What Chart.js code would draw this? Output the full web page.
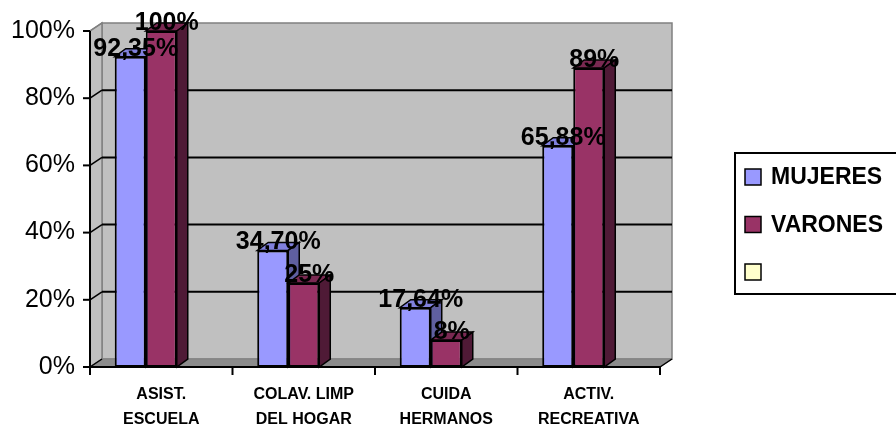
<!DOCTYPE html>
<html>
<head>
<meta charset="utf-8">
<script src="https://cdn.jsdelivr.net/npm/chart.js@4.4.1/dist/chart.umd.min.js"></script>
<style>
  html, body { margin: 0; padding: 0; background: #fff; }
  #wrap { width: 896px; height: 432px; }
</style>
</head>
<body>
<div id="wrap"><canvas id="chart" width="896" height="432"></canvas></div>
<script>
const categories = [['ASIST.', 'ESCUELA'], ['COLAV. LIMP', 'DEL HOGAR'], ['CUIDA', 'HERMANOS'], ['ACTIV.', 'RECREATIVA']];
const mujeres = [92.35, 34.70, 17.64, 65.88];
const varones = [100, 25, 8, 89];
const vacio = [null, null, null, null];
const yMax = 100;
const yStep = 20;

const FONT = '"Liberation Sans", Arial, sans-serif';
const DX = 11, DY = -8;   // profundidad de las barras
const WX = 12, WY = -8;   // profundidad de las paredes

function poly(ctx, pts, fill, stroke, lw) {
    ctx.beginPath();
    ctx.moveTo(pts[0][0], pts[0][1]);
    for (let i = 1; i < pts.length; i++) ctx.lineTo(pts[i][0], pts[i][1]);
    ctx.closePath();
    if (fill) { ctx.fillStyle = fill; ctx.fill(); }
    if (stroke) { ctx.strokeStyle = stroke; ctx.lineWidth = lw || 1; ctx.stroke(); }
}

function line(ctx, x1, y1, x2, y2, color, lw) {
    ctx.beginPath();
    ctx.moveTo(x1, y1);
    ctx.lineTo(x2, y2);
    ctx.strokeStyle = color;
    ctx.lineWidth = lw;
    ctx.stroke();
}

function fmt(v, d) {
    return v.toFixed(d).replace('.', ',') + '%';
}

const caja3d = {
    id: 'caja3d',
    beforeDatasetsDraw(chart) {
        const ctx = chart.ctx;
        const a = chart.chartArea;
        const y = chart.scales.y;
        ctx.save();
        // pared del fondo
        poly(ctx, [[a.left + WX, a.top + WY], [a.right + WX, a.top + WY], [a.right + WX, a.bottom + WY], [a.left + WX, a.bottom + WY]], '#c0c0c0', '#808080', 1.5);
        // pared izquierda
        poly(ctx, [[a.left, a.bottom], [a.left, a.top], [a.left + WX, a.top + WY], [a.left + WX, a.bottom + WY]], '#c0c0c0', '#808080', 1.5);
        // piso
        poly(ctx, [[a.left, a.bottom], [a.right, a.bottom], [a.right + WX, a.bottom + WY], [a.left + WX, a.bottom + WY]], '#8c8c8c', '#808080', 1);

        // lineas de division
        for (let v = yStep; v < yMax; v += yStep) {
            const py = y.getPixelForValue(v);
            line(ctx, a.left + WX, py + WY, a.right + WX, py + WY, '#000', 2);
            line(ctx, a.left, py, a.left + WX, py + WY, '#000', 1.5);
        }
        line(ctx, a.left, a.top, a.left + WX, a.top + WY, '#808080', 1.5);

        // ejes
        line(ctx, a.left, a.top, a.left, a.bottom + 1, '#000', 2);
        for (let v = 0; v <= yMax; v += yStep) {
            const py = y.getPixelForValue(v);
            line(ctx, a.left - 7, py, a.left, py, '#000', 2);
        }
        line(ctx, a.left - 1, a.bottom, a.right, a.bottom, '#000', 2);
        line(ctx, a.left, a.bottom, a.left + WX, a.bottom + WY, '#000', 1.5);
        line(ctx, a.right, a.bottom, a.right + WX, a.bottom + WY, '#000', 1.5);
        const cw = (a.right - a.left) / categories.length;
        for (let i = 0; i <= categories.length; i++) {
            const px = a.left + i * cw;
            line(ctx, px, a.bottom, px, a.bottom + 8, '#000', 2);
        }

        // caras laterales y superiores de las barras
        chart.data.datasets.forEach((ds, i) => {
            const meta = chart.getDatasetMeta(i);
            meta.data.forEach((bar, j) => {
                if (ds.data[j] == null) return;
                const p = bar.getProps(['x', 'y', 'base', 'width'], true);
                const l = p.x - p.width / 2, r = p.x + p.width / 2;
                poly(ctx, [[l, p.y], [r, p.y], [r + DX, p.y + DY], [l + DX, p.y + DY]], ds.topColor, '#000', 1.5);
                poly(ctx, [[r, p.y], [r + DX, p.y + DY], [r + DX, p.base + DY], [r, p.base]], ds.sideColor, '#000', 1.5);
            });
        });
        ctx.restore();
    },
    afterDatasetsDraw(chart) {
        const ctx = chart.ctx;
        ctx.save();
        ctx.font = 'bold 25px ' + FONT;
        ctx.fillStyle = '#000';
        ctx.textAlign = 'center';
        ctx.textBaseline = 'alphabetic';
        chart.data.datasets.forEach((ds, i) => {
            const meta = chart.getDatasetMeta(i);
            meta.data.forEach((bar, j) => {
                const v = ds.data[j];
                if (v == null) return;
                ctx.fillText(fmt(v, ds.decimals), bar.x + DX / 2, bar.y - 1);
            });
        });
        ctx.restore();
    },
    afterDraw(chart) {
        // leyenda con borde
        const ctx = chart.ctx;
        ctx.save();
        ctx.strokeStyle = '#000';
        ctx.lineWidth = 2;
        ctx.strokeRect(735, 153, 200, 141);
        ctx.font = 'bold 23px ' + FONT;
        ctx.textBaseline = 'middle';
        ctx.textAlign = 'left';
        chart.data.datasets.forEach((ds, i) => {
            const cy = 177 + i * 47.5;
            ctx.fillStyle = ds.backgroundColor;
            ctx.fillRect(745, cy - 8, 16, 16);
            ctx.lineWidth = 1.5;
            ctx.strokeRect(745, cy - 8, 16, 16);
            ctx.fillStyle = '#000';
            ctx.fillText(ds.label, 771, cy + 1);
        });
        ctx.restore();
    }
};

const ctx = document.getElementById('chart').getContext('2d');
const chart = new Chart(ctx, {
    type: 'bar',
    data: {
        labels: categories,
        datasets: [{
            label: 'MUJERES',
            data: mujeres,
            decimals: 2,
            backgroundColor: '#9999ff',
            topColor: '#8080dd',
            sideColor: '#5f5fa0',
            borderColor: '#000',
            borderWidth: 2,
            borderSkipped: false
        }, {
            label: 'VARONES',
            data: varones,
            decimals: 0,
            backgroundColor: '#993366',
            topColor: '#7a2952',
            sideColor: '#4f1a36',
            borderColor: '#000',
            borderWidth: 2,
            borderSkipped: false
        }, {
            label: '',
            data: vacio,
            decimals: 0,
            backgroundColor: '#ffffcc',
            topColor: '#eeeebb',
            sideColor: '#ccccaa',
            borderColor: '#000',
            borderWidth: 2,
            borderSkipped: false
        }]
    },
    options: {
        responsive: false,
        animation: false,
        datasets: {
            bar: { categoryPercentage: 0.653, barPercentage: 1 }
        },
        layout: { padding: { top: 31, right: 236, left: 0, bottom: 0 } },
        plugins: {
            legend: { display: false },
            tooltip: { enabled: false }
        },
        scales: {
            x: {
                grid: { display: false, drawTicks: false },
                border: { display: false },
                ticks: {
                    color: '#000',
                    padding: 15,
                    maxRotation: 0,
                    autoSkip: false,
                    font: { family: FONT, size: 16, weight: 'bold', lineHeight: 1.56 }
                },
                afterFit(scale) { scale.height = 65; }
            },
            y: {
                min: 0,
                max: yMax,
                grid: { display: false, drawTicks: false },
                border: { display: false },
                ticks: {
                    stepSize: yStep,
                    color: '#000',
                    padding: 15,
                    font: { family: FONT, size: 25 },
                    callback: v => v + '%'
                },
                afterFit(scale) { scale.width = 90; }
            }
        }
    },
    plugins: [caja3d]
});
</script>
</body>
</html>
